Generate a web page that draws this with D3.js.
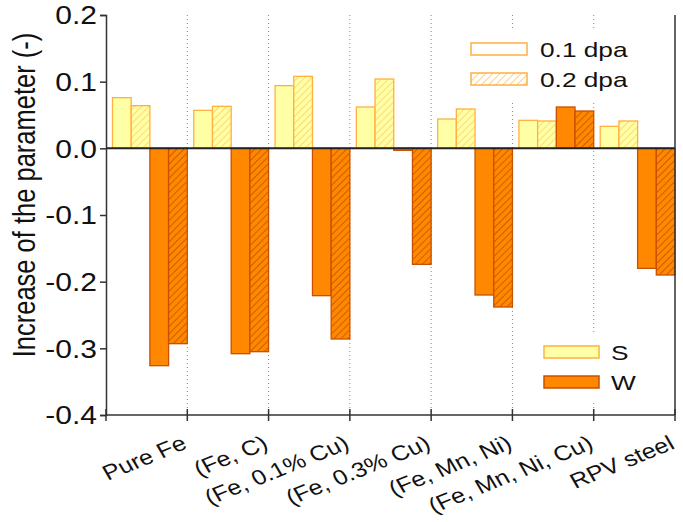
<!DOCTYPE html>
<html><head><meta charset="utf-8">
<script src="https://cdn.jsdelivr.net/npm/d3@7"></script>
<style>body{margin:0;background:#fff}svg{display:block;font-family:"Liberation Sans",Arial,sans-serif}</style>
</head><body><svg id="c" width="683" height="522"></svg>
<script>
const categories = ["Pure Fe","(Fe, C)","(Fe, 0.1% Cu)","(Fe, 0.3% Cu)","(Fe, Mn, Ni)","(Fe, Mn, Ni, Cu)","RPV steel"];
const S_01 = [0.076, 0.057, 0.094, 0.062, 0.044, 0.042, 0.033];
const S_02 = [0.064, 0.063, 0.108, 0.104, 0.059, 0.041, 0.041];
const W_01 = [-0.326, -0.308, -0.221, -0.003, -0.220, 0.062, -0.180];
const W_02 = [-0.293, -0.305, -0.286, -0.174, -0.238, 0.056, -0.190];
const yTicks = [0.2, 0.1, 0.0, -0.1, -0.2, -0.3, -0.4];
const seriesKeys = ["S01","S02","W01","W02"];
const legendDpa = ["0.1 dpa", "0.2 dpa"];
const legendSW = ["S", "W"];

const SX = 1.2; // horizontal stretch of the original picture's glyphs
const svg = d3.select("#c");
const L = 106, R = 675, T = 15, B = 415;
const x = d3.scaleBand().domain(categories).range([L, R]).paddingInner(0).paddingOuter(0);
const y = d3.scaleLinear().domain([-0.4, 0.2]).range([B, T]);
const xs = d3.scaleBand().domain(seriesKeys).range([6.5, x.bandwidth()]).padding(0);

const defs = svg.append("defs");
function hatch(id, bg, line) {
  const p = defs.append("pattern").attr("id", id).attr("patternUnits", "userSpaceOnUse")
    .attr("width", 5).attr("height", 5).attr("patternTransform", "rotate(45)");
  p.append("rect").attr("width", 5).attr("height", 5).attr("fill", bg);
  p.append("line").attr("x1", 0).attr("y1", 0).attr("x2", 0).attr("y2", 5).attr("stroke", line).attr("stroke-width", 1.4);
}
hatch("hS", "#ffffa6", "#ffc860");
hatch("hW", "#ff8800", "#b84c00");
hatch("hL", "#ffffff", "#ffb850");

const styles = {
  S01: {fill: "#ffffa6", stroke: "#ffb040"},
  S02: {fill: "url(#hS)", stroke: "#ffb040"},
  W01: {fill: "#ff8800", stroke: "#c85000"},
  W02: {fill: "url(#hW)", stroke: "#c85000"}
};
const dataMap = {S01: S_01, S02: S_02, W01: W_01, W02: W_02};

// dotted separators
const seps = categories.slice(0, -1).map((c) => x(c) + x.bandwidth());
svg.append("g").selectAll("line").data(seps).join("line")
  .attr("x1", d => d).attr("x2", d => d).attr("y1", T).attr("y2", B)
  .attr("stroke", "#888").attr("stroke-width", 1).attr("stroke-dasharray", "1,3");

// bars
const bars = [];
categories.forEach((c, i) => seriesKeys.forEach(k => bars.push({c, k, v: dataMap[k][i]})));
svg.append("g").selectAll("rect").data(bars).join("rect")
  .attr("x", d => x(d.c) + xs(d.k))
  .attr("width", xs.bandwidth())
  .attr("y", d => y(Math.max(0, d.v)))
  .attr("height", d => Math.abs(y(d.v) - y(0)))
  .attr("fill", d => styles[d.k].fill)
  .attr("stroke", d => styles[d.k].stroke)
  .attr("stroke-width", 1.3);

function stretchedText(g, tx, ty, txt, size, sx) {
  return g.append("text").attr("transform", `translate(${tx},${ty}) scale(${sx},1)`)
    .attr("font-size", size).attr("fill", "#111").text(txt);
}

// legends (white background)
const lg1 = svg.append("g");
lg1.append("rect").attr("x", 458).attr("y", 28).attr("width", 210).attr("height", 72).attr("fill", "#fff");
lg1.append("rect").attr("x", 471).attr("y", 43).attr("width", 56).attr("height", 12).attr("fill", "#fff").attr("stroke", "#ffb040").attr("stroke-width", 1.5);
lg1.append("rect").attr("x", 471).attr("y", 73).attr("width", 56).attr("height", 12).attr("fill", "url(#hL)").attr("stroke", "#ffb040").attr("stroke-width", 1.5);
stretchedText(lg1, 540, 57, legendDpa[0], 21, 1.25);
stretchedText(lg1, 540, 87, legendDpa[1], 21, 1.25);

const lg2 = svg.append("g");
lg2.append("rect").attr("x", 530).attr("y", 332).attr("width", 120).attr("height", 70).attr("fill", "#fff");
lg2.append("rect").attr("x", 544).attr("y", 346).attr("width", 55).attr("height", 12).attr("fill", styles.S01.fill).attr("stroke", styles.S01.stroke).attr("stroke-width", 1.5);
lg2.append("rect").attr("x", 544).attr("y", 376).attr("width", 55).attr("height", 12).attr("fill", styles.W01.fill).attr("stroke", styles.W01.stroke).attr("stroke-width", 1.5);
stretchedText(lg2, 611, 360, legendSW[0], 21, 1.25);
stretchedText(lg2, 611, 390, legendSW[1], 21, 1.25);

// zero line
svg.append("line").attr("x1", L).attr("x2", R).attr("y1", y(0)).attr("y2", y(0)).attr("stroke", "#222").attr("stroke-width", 2);

// y axis
const fmt = d => d3.format(".1f")(d).replace("\u2212", "-");
const yAxis = d3.axisLeft(y).tickValues(yTicks).tickFormat(fmt).tickSize(6).tickPadding(4);
const gy = svg.append("g").attr("transform", `translate(${L},0)`).call(yAxis);
gy.select(".domain").attr("stroke", "#333").attr("stroke-width", 1.5);
gy.selectAll(".tick line").attr("stroke", "#333").attr("stroke-width", 1.5);
gy.selectAll(".tick text").attr("font-size", 25).attr("fill", "#111")
  .attr("font-family", "Liberation Sans, Arial, sans-serif")
  .attr("x", 0).attr("dy", "0.35em")
  .attr("transform", `translate(-9,0) scale(${SX},1)`);

// right border
svg.append("line").attr("x1", R).attr("x2", R).attr("y1", T).attr("y2", B).attr("stroke", "#333").attr("stroke-width", 1.5);

// x axis (ticks at category boundaries)
const tickPos = [L].concat(seps).concat([R]);
const gx = svg.append("g");
gx.append("line").attr("x1", L).attr("x2", R).attr("y1", B).attr("y2", B).attr("stroke", "#333").attr("stroke-width", 1.5);
gx.selectAll(".tk").data(tickPos).join("line").attr("class", "tk")
  .attr("x1", d => d).attr("x2", d => d).attr("y1", B - 6).attr("y2", B + 6)
  .attr("stroke", "#333").attr("stroke-width", 1.5);
gx.selectAll("text").data(categories).join("text")
  .attr("text-anchor", "end")
  .attr("font-size", 21).attr("fill", "#111")
  .attr("transform", d => `translate(${x(d) + x.bandwidth() + 1},${B + 33}) scale(${SX},1) rotate(-26)`)
  .text(d => d);

// y title
svg.append("text").attr("transform", `translate(35,195) scale(${SX},1) rotate(-90)`)
  .attr("text-anchor", "middle").attr("font-size", 25.5).attr("fill", "#111")
  .text("Increase of the parameter (-)");
</script></body></html>
